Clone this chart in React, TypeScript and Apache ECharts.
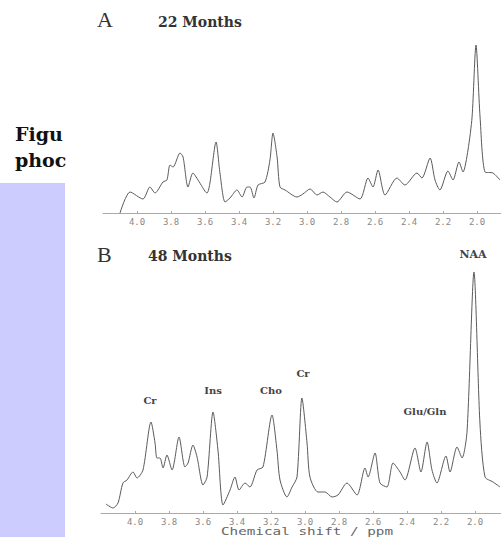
import React, { useEffect, useRef } from "react";
import * as echarts from "echarts";

// Panel A (22 months): chemical shift (ppm) and signal height
const ppmA = [4.10, 4.041, 3.965, 3.924, 3.894, 3.847, 3.824, 3.806, 3.788, 3.747, 3.729, 3.700, 3.671, 3.641, 3.588, 3.571, 3.535, 3.512, 3.482, 3.453, 3.412, 3.382, 3.353, 3.335, 3.312, 3.288, 3.247, 3.218, 3.200, 3.176, 3.159, 3.129, 3.059, 3.024, 2.982, 2.941, 2.906, 2.865, 2.824, 2.765, 2.688, 2.641, 2.612, 2.582, 2.541, 2.471, 2.424, 2.353, 2.324, 2.276, 2.247, 2.218, 2.171, 2.141, 2.106, 2.082, 2.053, 2.029, 2.006, 1.982, 1.953, 1.906, 1.865];
const sigA = [0, 21, 14, 26, 20, 31, 33, 48, 46, 60, 56, 26, 40, 33, 20, 30, 71, 40, 11, 15, 23, 16, 26, 26, 15, 28, 31, 53, 80, 56, 26, 23, 16, 19, 24, 18, 21, 16, 11, 21, 14, 35, 26, 43, 18, 35, 28, 40, 35, 55, 33, 23, 42, 33, 51, 41, 63, 96, 168, 96, 41, 40, 33];

// Panel B (48 months)
const ppmB = [4.171, 4.129, 4.100, 4.071, 4.047, 4.012, 3.988, 3.953, 3.906, 3.882, 3.871, 3.853, 3.835, 3.812, 3.782, 3.741, 3.706, 3.688, 3.659, 3.635, 3.600, 3.576, 3.541, 3.512, 3.482, 3.441, 3.412, 3.388, 3.353, 3.324, 3.282, 3.247, 3.194, 3.165, 3.147, 3.106, 3.076, 3.047, 3.018, 2.988, 2.971, 2.924, 2.882, 2.841, 2.806, 2.753, 2.694, 2.647, 2.629, 2.588, 2.559, 2.518, 2.482, 2.441, 2.412, 2.353, 2.318, 2.282, 2.253, 2.224, 2.171, 2.147, 2.106, 2.076, 2.047, 2.006, 1.971, 1.941, 1.894, 1.853];
const sigB = [9, 5, 10, 30, 33, 41, 35, 43, 91, 70, 55, 55, 45, 58, 43, 76, 46, 50, 68, 56, 28, 36, 101, 63, 8, 23, 36, 23, 30, 26, 43, 46, 98, 63, 33, 16, 26, 36, 115, 70, 36, 21, 21, 16, 18, 30, 18, 45, 36, 60, 30, 26, 50, 41, 33, 65, 41, 71, 43, 30, 57, 41, 66, 55, 81, 241, 90, 36, 31, 26];

// Axis ticks (ppm)
const tickMin = 1.8;
const tickMax = 4.2;
const tickStep = 0.2;

const panelTitles = ["A", "B"];
const panelSubtitles = ["22 Months", "48 Months"];
const peakLabels = ["Cr", "Ins", "Cho", "Cr", "Glu/Gln", "NAA"];
const axisName = "Chemical shift / ppm";

function makeXAxis(gridIndex: number) {
  return {
    type: "value",
    gridIndex,
    inverse: true,
    min: tickMin,
    max: tickMax,
    interval: tickStep,
    axisLine: { show: true, lineStyle: { color: "#aaa", width: 1 } },
    axisTick: { show: true, inside: true, length: 2, lineStyle: { color: "#aaa" } },
    splitLine: { show: false },
    axisLabel: {
      showMinLabel: false,
      showMaxLabel: false,
      margin: 4,
      color: "#888",
      fontFamily: "DejaVu Sans Mono",
      fontSize: 9,
      formatter: (v: number) => v.toFixed(1),
    },
  };
}

export default function App() {
  const ref = useRef<HTMLDivElement>(null);
  useEffect(() => {
    if (!ref.current) return;
    const chart = echarts.init(ref.current, null, { renderer: "svg" });
    const lineStyle = { color: "#5a5a5a", width: 1 };
    const serif = "DejaVu Serif";
    const peakPos = [
      [150, 400], [213, 390], [271, 390], [303, 373], [425, 411], [473, 254],
    ];
    chart.setOption({
      animation: false,
      backgroundColor: "#ffffff",
      grid: [
        { left: 103, width: 408, top: 35, height: 178, outerBoundsMode: "none", containLabel: false },
        { left: 101, width: 408, top: 265, height: 248, outerBoundsMode: "none", containLabel: false },
      ],
      xAxis: [makeXAxis(0), makeXAxis(1)],
      yAxis: [
        { type: "value", gridIndex: 0, min: 0, max: 178, show: false },
        { type: "value", gridIndex: 1, min: 0, max: 248, show: false },
      ],
      series: [
        {
          type: "line",
          xAxisIndex: 0,
          yAxisIndex: 0,
          data: ppmA.map((p, i) => [p, sigA[i]]),
          showSymbol: false,
          smooth: 0.25,
          lineStyle,
        },
        {
          type: "line",
          xAxisIndex: 1,
          yAxisIndex: 1,
          data: ppmB.map((p, i) => [p, sigB[i]]),
          showSymbol: false,
          smooth: 0.25,
          lineStyle,
        },
      ],
      graphic: [
        { type: "rect", shape: { x: 0, y: 183, width: 65, height: 354 }, style: { fill: "#ccccff" } },
        { type: "text", x: 15, y: 134, style: { text: "Figu", font: "bold 19px 'DejaVu Serif'", fill: "#111", verticalAlign: "middle" } },
        { type: "text", x: 15, y: 160, style: { text: "phoc", font: "bold 19px 'DejaVu Serif'", fill: "#111", verticalAlign: "middle" } },
        { type: "text", x: 97, y: 19, style: { text: panelTitles[0], font: "22px 'Liberation Serif'", fill: "#333", verticalAlign: "middle" } },
        { type: "text", x: 158, y: 22, style: { text: panelSubtitles[0], font: `bold 14px '${serif}'`, fill: "#333", verticalAlign: "middle" } },
        { type: "text", x: 97, y: 254, style: { text: panelTitles[1], font: "22px 'Liberation Serif'", fill: "#333", verticalAlign: "middle" } },
        { type: "text", x: 148, y: 256, style: { text: panelSubtitles[1], font: `bold 14px '${serif}'`, fill: "#333", verticalAlign: "middle" } },
        ...peakLabels.map((t, i) => ({
          type: "text",
          x: peakPos[i][0],
          y: peakPos[i][1],
          style: {
            text: t,
            font: `bold ${t === "NAA" ? 11 : 10}px '${serif}'`,
            fill: "#444",
            align: "center",
            verticalAlign: "middle",
          },
        })),
        { type: "text", x: 307, y: 531, scaleX: 1.3, style: { text: axisName, font: "11px 'DejaVu Sans Mono'", fill: "#666", align: "center", verticalAlign: "middle" } },
      ],
    });
    return () => chart.dispose();
  }, []);
  return (
    <div style={{ position: "absolute", left: 0, top: 0 }}>
      <div ref={ref} style={{ width: 501, height: 537 }} />
    </div>
  );
}
